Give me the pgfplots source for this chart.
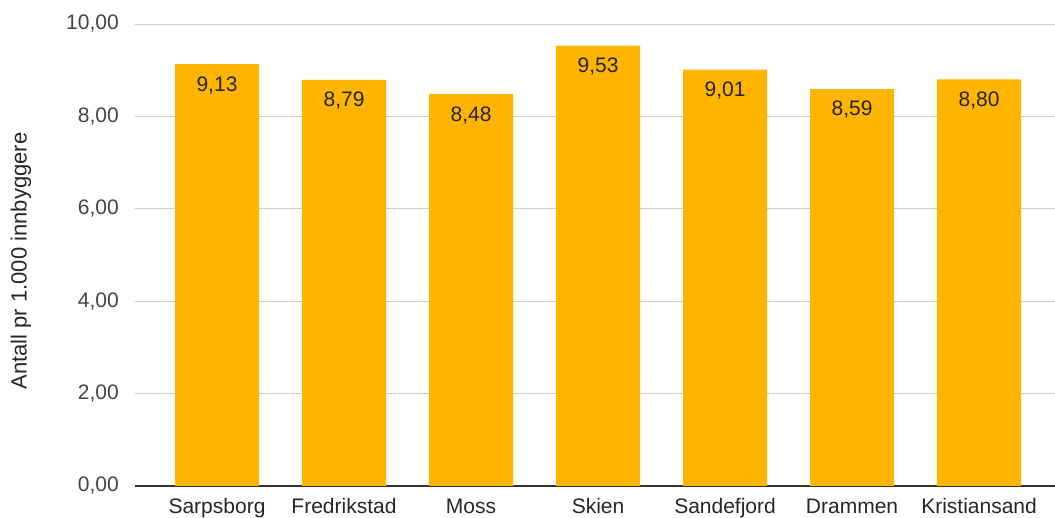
\documentclass[border=0pt]{standalone}
\usepackage{pgfplots}
\pgfplotsset{compat=1.18}
\usepackage{fontspec}
\setmainfont{Liberation Sans}
\definecolor{barc}{HTML}{FFB400}
\definecolor{gridc}{HTML}{CCCCCC}
\definecolor{axc}{HTML}{333333}
\definecolor{tickc}{HTML}{444444}
\begin{document}
\begin{tikzpicture}
\begin{axis}[
  at={(0,0)}, anchor=south west,
  scale only axis, width=920pt, height=462pt,
  ybar, bar width=84pt,
  xmin=-0.6457, xmax=6.598,
  ymin=0, ymax=10,
  ytick={0,2,4,6,8,10},
  xtick=data,
  xticklabels={Sarpsborg,Fredrikstad,Moss,Skien,Sandefjord,Drammen,Kristiansand},
  major tick length=0pt,
  axis x line*=bottom,
  axis y line*=left,
  y axis line style={draw=none},
  x axis line style={draw=axc, line width=1.2pt},
  ymajorgrids, grid style={gridc, line width=0.9pt},
  font=\fontsize{21pt}{25pt}\selectfont,
  /pgf/number format/assume math mode=true,
  y tick label style={/pgf/number format/.cd, fixed, fixed zerofill, precision=2, use comma, /tikz/.cd, anchor=east, inner sep=0pt, xshift=-16pt, text=tickc},
  x tick label style={anchor=base, inner sep=0pt, yshift=-28pt, text=black!85},
  every axis y label/.style={at={(axis description cs:0,0.487)}, xshift=-114pt, anchor=center, rotate=90, font=\fontsize{22pt}{26pt}\selectfont, text=black!85},
  ylabel={Antall pr 1.000 innbyggere},
  nodes near coords,
  nodes near coords style={/pgf/number format/.cd, fixed, fixed zerofill, precision=2, use comma, /tikz/.cd, anchor=north, inner sep=0pt, yshift=-12pt, text=black!85},
]
\addplot[fill=barc, draw=none] coordinates {(0,9.13) (1,8.79) (2,8.48) (3,9.53) (4,9.01) (5,8.59) (6,8.80)};
\end{axis}
\pgfresetboundingbox
\path[use as bounding box] (-135pt,-32pt) rectangle (920pt,486pt);
\end{tikzpicture}
\end{document}
